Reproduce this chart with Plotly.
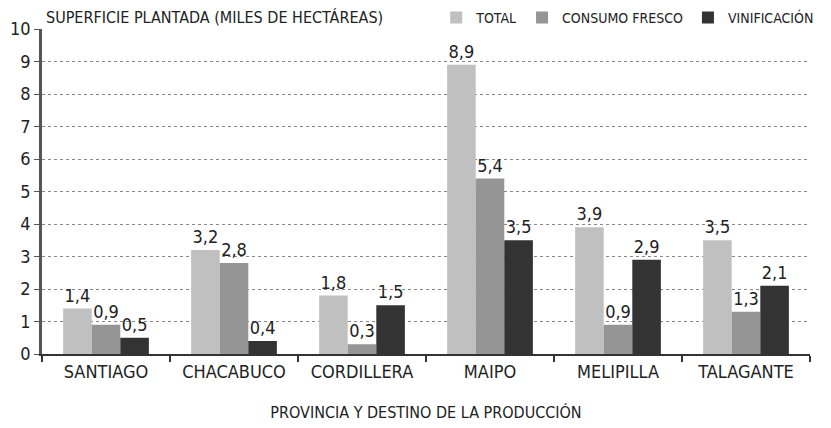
import plotly.graph_objects as go

# Data
provincias = ['SANTIAGO', 'CHACABUCO', 'CORDILLERA', 'MAIPO', 'MELIPILLA', 'TALAGANTE']
total = [1.4, 3.2, 1.8, 8.9, 3.9, 3.5]
consumo_fresco = [0.9, 2.8, 0.3, 5.4, 0.9, 1.3]
vinificacion = [0.5, 0.4, 1.5, 3.5, 2.9, 2.1]
y_ticks = list(range(0, 11))

series = [
    ('TOTAL', total, '#c0c0c0'),
    ('CONSUMO FRESCO', consumo_fresco, '#959595'),
    ('VINIFICACIÓN', vinificacion, '#333333'),
]

FONT = 'DejaVu Sans Condensed, DejaVu Sans'


def f(size):
    return dict(size=size, family=FONT, color='#222222')


# paper area = plot height (no top margin); the plot sits lower via the y domain
paper_h = 428 - 74
y_top = 1 - 29 / paper_h

fig = go.Figure()
for name, vals, color in series:
    fig.add_trace(go.Bar(
        name=name,
        x=provincias,
        y=vals,
        marker_color=color,
        marker_line_width=0,
        text=[f"{v:.1f}".replace('.', ',') for v in vals],
        textposition='outside',
        textfont=f(18),
        cliponaxis=False,
    ))

fig.update_layout(
    barmode='group',
    bargap=0.33,
    bargroupgap=0,
    width=831, height=428,
    margin=dict(l=42, r=21, t=0, b=74, autoexpand=False),
    plot_bgcolor='white',
    paper_bgcolor='white',
    font=f(16),
    showlegend=True,
    legend=dict(orientation='h', x=1.012, xanchor='right', y=1 - 18 / paper_h, yanchor='middle',
                font=f(14), itemwidth=30,
                bgcolor='rgba(0,0,0,0)', traceorder='normal'),
    annotations=[dict(text='SUPERFICIE PLANTADA (MILES DE HECTÁREAS)', xref='paper', yref='paper',
                      x=0.002, y=1 - 18 / paper_h, xanchor='left', yanchor='middle', showarrow=False,
                      font=f(16))],
)
fig.update_xaxes(
    title_text='PROVINCIA Y DESTINO DE LA PRODUCCIÓN',
    title_font=f(16),
    title_standoff=26,
    tickfont=f(18),
    tickangle=0,
    showline=True, linecolor='#333333', linewidth=2,
    ticks='outside', tickson='boundaries', ticklen=6, tickcolor='#333333', tickwidth=2,
    showgrid=False,
)
fig.update_yaxes(
    domain=[0, y_top],
    range=[0, 10],
    tickvals=y_ticks,
    tickfont=f(18),
    showline=True, linecolor='#555555', linewidth=2.5,
    ticks='outside', ticklen=5, tickcolor='#555555',
    showgrid=True, gridcolor='#888888', griddash='dot', gridwidth=1,
    zeroline=False,
)

# drop the browser's default body margin so the figure sits at the page origin
fig.write_html('out.html', config={'displayModeBar': False},
               post_script="document.body.style.margin='0';")
